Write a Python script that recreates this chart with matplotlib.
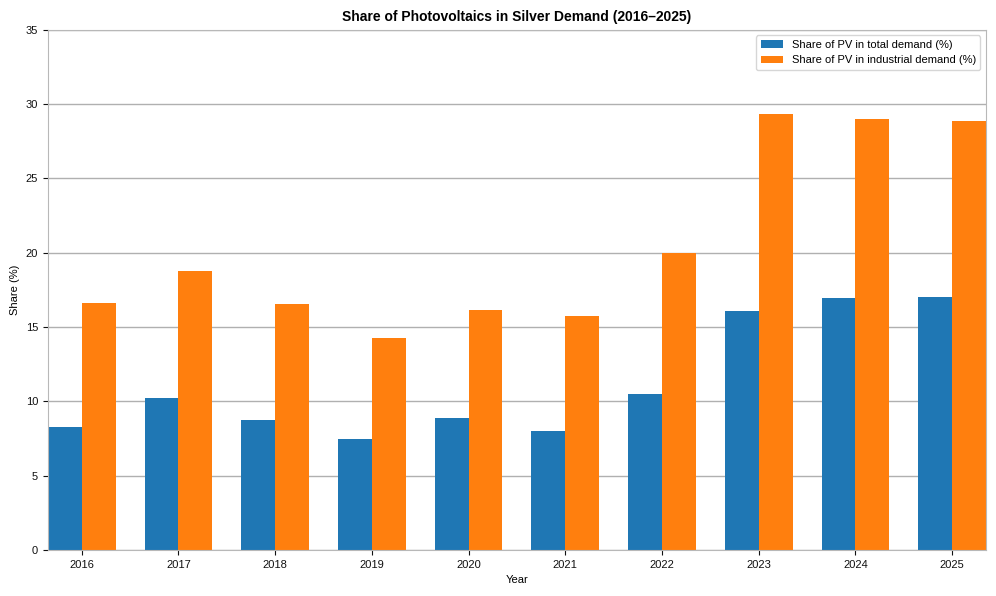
import numpy as np
import matplotlib.pyplot as plt

plt.rcParams['font.family'] = ['Liberation Sans', 'DejaVu Sans']

years = [2016, 2017, 2018, 2019, 2020, 2021, 2022, 2023, 2024, 2025]
pv_total = [8.25, 10.2, 8.72, 7.45, 8.92, 8.03, 10.5, 16.1, 16.98, 17.05]
pv_industrial = [16.63, 18.78, 16.56, 14.28, 16.15, 15.75, 19.98, 29.33, 29.0, 28.86]

x = np.arange(len(years))
w = 0.35

fig, ax = plt.subplots(figsize=(9.96, 5.96), dpi=100)
ax.bar(x - w / 2, pv_total, w, color='#1f77b4', label='Share of PV in total demand (%)', zorder=2)
ax.bar(x + w / 2, pv_industrial, w, color='#ff7f0e', label='Share of PV in industrial demand (%)', zorder=2)

ax.set_xticks(x)
ax.set_xticklabels([str(y) for y in years])
ax.set_xlim(-0.35, len(years) - 1 + 0.35)
ax.set_ylim(0, 35)
ax.tick_params(labelsize=8, colors='#111111')
ax.grid(axis='y', color='#b0b0b0', linewidth=1, zorder=1)
for s in ax.spines.values():
    s.set_color('#b8b8b8')

ax.set_xlabel('Year', fontsize=8)
ax.set_ylabel('Share (%)', fontsize=8)
ax.set_title('Share of Photovoltaics in Silver Demand (2016\u20132025)', fontsize=10, fontweight='bold')
ax.legend(loc='upper right', fontsize=8)

fig.subplots_adjust(left=0.048, right=0.99, top=0.95, bottom=0.077)
fig.savefig('out.png', dpi=100)
